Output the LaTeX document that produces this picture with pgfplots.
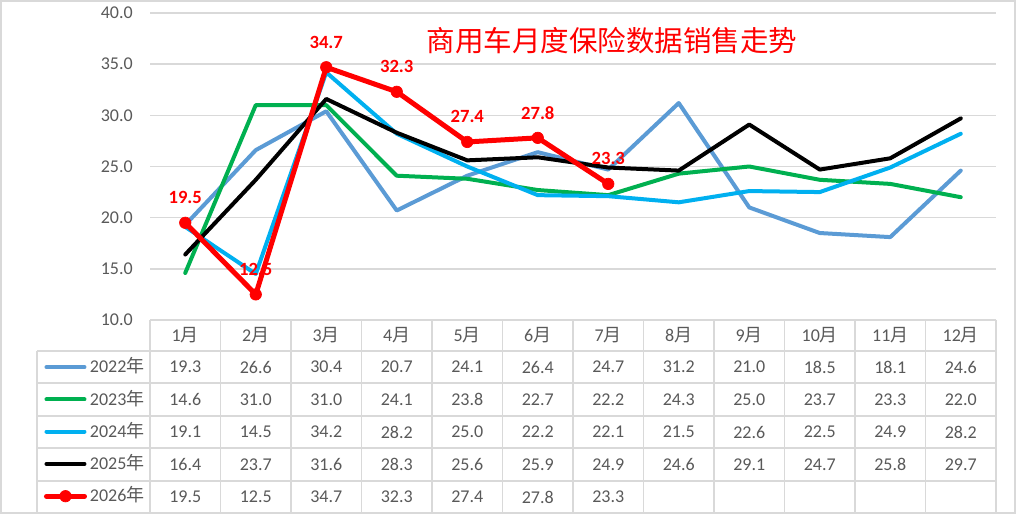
\documentclass[border=0pt]{standalone}
\usepackage{fontspec}
\setmainfont{Carlito}
\newfontfamily\cjk{Noto Sans CJK SC}
\usepackage{pgfplots}
\usepackage{pgfplotstable}
\pgfplotsset{compat=1.18}
\definecolor{c22}{HTML}{5B9BD5}
\definecolor{c23}{HTML}{00B050}
\definecolor{c24}{HTML}{00B0F0}
\definecolor{gridc}{HTML}{D9D9D9}
\definecolor{txt}{HTML}{595959}

\pgfplotstableread{
m y2022 y2023 y2024 y2025
1  19.3 14.6 19.1 16.4
2  26.6 31.0 14.5 23.7
3  30.4 31.0 34.2 31.6
4  20.7 24.1 28.2 28.3
5  24.1 23.8 25.0 25.6
6  26.4 22.7 22.2 25.9
7  24.7 22.2 22.1 24.9
8  31.2 24.3 21.5 24.6
9  21.0 25.0 22.6 29.1
10 18.5 23.7 22.5 24.7
11 18.1 23.3 24.9 25.8
12 24.6 22.0 28.2 29.7
}\dataA
\pgfplotstableread{
m y2026
1 19.5
2 12.5
3 34.7
4 32.3
5 27.4
6 27.8
7 23.3
}\dataB

\pgfplotsset{tabtext/.style={draw=none, mark=none, forget plot, nodes near coords,
  every node near coord/.append style={anchor=center, inner sep=0pt, yshift=0pt,
  font=\fontsize{13.5}{16}\selectfont, text=txt}}}

\begin{document}
\begin{tikzpicture}
\useasboundingbox (0,0) rectangle (764.25pt,385.5pt);
\draw[color=gridc, line width=1.1pt] (0.75pt,0.75pt) rectangle (761.25pt,384.75pt);
\begin{axis}[
  at={(112.5pt,145.5pt)}, anchor=south west,
  scale only axis, width=634.5pt, height=230.25pt,
  xmin=0.5, xmax=12.5, ymin=10, ymax=40,
  ytick={10,15,...,40},
  xtick={1,...,12},
  xticklabels={1{\cjk 月},2{\cjk 月},3{\cjk 月},4{\cjk 月},5{\cjk 月},6{\cjk 月},7{\cjk 月},8{\cjk 月},9{\cjk 月},10{\cjk 月},11{\cjk 月},12{\cjk 月}},
  axis line style={draw=none},
  major tick length=0pt,
  ymajorgrids, grid style={color=gridc, line width=1.1pt},
  tick label style={font=\fontsize{13.5}{16}\selectfont, text=txt},
  yticklabel style={anchor=east, inner sep=0pt, xshift=-12.75pt},
  xticklabel style={anchor=center, inner sep=0pt, yshift=-11.6pt},
  /pgf/number format/.cd, fixed, fixed zerofill, precision=1, assume math mode=true, /pgfplots/.cd,
  clip=false,
  every axis plot/.append style={line join=round, line cap=round},
  legend style={at={(-0.13357,-0.10098)}, anchor=north west, draw=none, fill=none,
    inner sep=0pt, outer sep=0pt, row sep=0pt, column sep=0pt,
    cells={anchor=west},
    nodes={inner sep=0pt, text height=16.35pt, text depth=7.85pt,
      font=\fontsize{13.5}{16}\selectfont, text=txt}},
  legend image code/.code={\path (0pt,0pt) (36pt,0pt);
    \draw[mark repeat=2, mark phase=2, #1] plot coordinates {(5.25pt,0pt) (19.5pt,0pt) (33.75pt,0pt)};},
]
\addplot[c22, line width=3pt] table[x=m,y=y2022]{\dataA};
\addlegendentry{2022{\cjk 年}}
\addplot[c23, line width=3pt] table[x=m,y=y2023]{\dataA};
\addlegendentry{2023{\cjk 年}}
\addplot[c24, line width=3pt] table[x=m,y=y2024]{\dataA};
\addlegendentry{2024{\cjk 年}}
\addplot[black, line width=3pt] table[x=m,y=y2025]{\dataA};
\addlegendentry{2025{\cjk 年}}
\addplot[red, line width=3.75pt, mark=*, mark size=4.3pt,
  mark options={solid, line width=0.5pt, fill=red, draw=red},
  nodes near coords,
  every node near coord/.append style={anchor=center, yshift=18.75pt,
    font=\bfseries\fontsize{14}{16}\selectfont, text=red}]
  table[x=m,y=y2026]{\dataB};
\addlegendentry{2026{\cjk 年}}

\addplot[tabtext, point meta=\thisrow{y2022}] table[x=m, y expr=5.407]{\dataA};
\addplot[tabtext, point meta=\thisrow{y2023}] table[x=m, y expr=2.231]{\dataA};
\addplot[tabtext, point meta=\thisrow{y2024}] table[x=m, y expr=-0.945]{\dataA};
\addplot[tabtext, point meta=\thisrow{y2025}] table[x=m, y expr=-4.121]{\dataA};
\addplot[tabtext, point meta=\thisrow{y2026}] table[x=m, y expr=-7.297]{\dataB};

\node[font=\cjk\fontsize{21.4}{24}\selectfont, text=red] at (rel axis cs:0.5461,0.9104) {商用车月度保险数据销售走势};
\end{axis}
\begin{scope}[shift={(0,385.5pt)}, x=0.75pt, y=-0.75pt, color=gridc, line width=1.1pt]
\foreach \k in {0,...,12} \draw ({150+70.5*\k},320) -- ({150+70.5*\k},513);
\draw (37,351) -- (37,513);
\draw (150,320) -- (996,320);
\foreach \r in {351,383,416,448,481,513} \draw (37,\r) -- (996,\r);
\end{scope}
\end{tikzpicture}
\end{document}
